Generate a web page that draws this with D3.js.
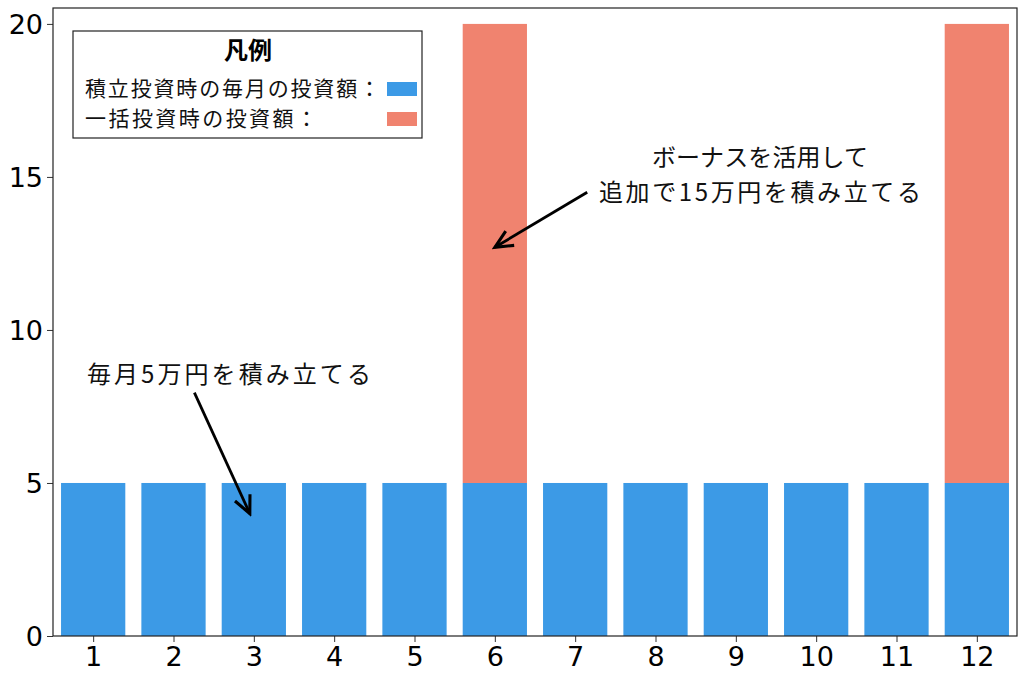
<!DOCTYPE html>
<html><head><meta charset="utf-8">
<script src="https://cdn.jsdelivr.net/npm/d3@7"></script>
<style>body{margin:0;background:#fff}svg{display:block}</style>
</head><body>
<svg id="chart" width="1024" height="678"></svg>
<script>
const months = [1,2,3,4,5,6,7,8,9,10,11,12];
const monthlyValues = [5,5,5,5,5,5,5,5,5,5,5,5];
const bonusValues = [0,0,0,0,0,15,0,0,0,0,0,15];
const yTicks = [0,5,10,15,20];
const legendTitle = "凡例";
const legendLabels = ["積立投資時の毎月の投資額：","一括投資時の投資額："];
const annoMonthly = {text:["毎月5万円を積み立てる"], textAt:[2.69,8.28], from:[2.26,7.95], to:[2.95,4.0]};
const annoBonus = {text:["ボーナスを活用して","追加で15万円を積み立てる"], textAt:[9.3,15.36], from:[7.15,14.5], to:[6.0,12.7]};

const colors = {monthly:"#3C9AE6", bonus:"#F0836F"};
const m = {left:53, right:1017, top:8, bottom:636};
const svg = d3.select("#chart");
const x = d3.scaleLinear().domain([0.5,12.5]).range([m.left,m.right]);
const y = d3.scaleLinear().domain([0,20.52]).range([m.bottom,m.top]);
const bw = (x(1.8)-x(1));
const fontNum = "DejaVu Sans, sans-serif";
const fontJP = "'Noto Sans CJK JP', sans-serif";

// bars
svg.append("g").selectAll("rect").data(months).join("rect")
  .attr("x", (d)=>x(d)-bw/2).attr("width", bw)
  .attr("y", (d,i)=>y(monthlyValues[i])).attr("height", (d,i)=>y(0)-y(monthlyValues[i]))
  .attr("fill", colors.monthly);
svg.append("g").selectAll("rect").data(months.filter((d,i)=>bonusValues[i]>0)).join("rect")
  .attr("x", (d)=>x(d)-bw/2).attr("width", bw)
  .attr("y", (d)=>y(monthlyValues[d-1]+bonusValues[d-1]))
  .attr("height", (d)=>y(monthlyValues[d-1])-y(monthlyValues[d-1]+bonusValues[d-1]))
  .attr("fill", colors.bonus);

// axes
const xAxis = svg.append("g").attr("transform",`translate(0,${m.bottom})`)
  .call(d3.axisBottom(x).tickValues(months).tickSize(6).tickPadding(5).tickSizeOuter(0));
const yAxis = svg.append("g").attr("transform",`translate(${m.left},0)`)
  .call(d3.axisLeft(y).tickValues(yTicks).tickSize(6).tickPadding(4).tickSizeOuter(0));
[xAxis,yAxis].forEach(a=>{
  a.select(".domain").remove();
  a.selectAll("text").attr("font-family",fontNum).attr("font-size",27).attr("fill","#000");
  a.selectAll("line").attr("stroke","#333");
});
yAxis.selectAll("text").attr("dy","0.36em");
// frame
svg.append("rect").attr("x",m.left).attr("y",m.top).attr("width",m.right-m.left).attr("height",m.bottom-m.top)
  .attr("fill","none").attr("stroke","#222").attr("stroke-width",1.2);

// legend
const lg = svg.append("g");
lg.append("rect").attr("x",73).attr("y",31).attr("width",349).attr("height",107)
  .attr("fill","#fff").attr("stroke","#222").attr("stroke-width",1.2);
lg.append("text").attr("x",248).attr("y",59).attr("text-anchor","middle")
  .attr("font-family",fontJP).attr("font-weight","bold").attr("font-size",24).text(legendTitle);
const swCols = [colors.monthly, colors.bonus];
legendLabels.forEach((t,i)=>{
  const ty = 96 + i*30;
  const tx = lg.append("text").attr("x",85).attr("y",ty).attr("font-family",fontJP).attr("font-size",21).attr("fill","#111").text(t);
  tx.attr("textLength", i===0?295:232).attr("lengthAdjust","spacing");
  lg.append("rect").attr("x",387).attr("y",ty-14).attr("width",30).attr("height",14).attr("fill",swCols[i]);
});

// annotations
const defs = svg.append("defs");
defs.append("marker").attr("id","ah").attr("viewBox","0 0 20 20").attr("refX",17).attr("refY",10)
  .attr("markerWidth",22).attr("markerHeight",22).attr("markerUnits","userSpaceOnUse").attr("orient","auto")
  .append("path").attr("d","M1,2.5 L17,10 L1,17.5").attr("fill","none").attr("stroke","#000").attr("stroke-width",2.8);
function annotate(a, lens){
  const lh = 35;
  a.text.forEach((t,i)=>{
    svg.append("text").attr("x",x(a.textAt[0])).attr("y",y(a.textAt[1])+i*lh)
      .attr("text-anchor","middle").attr("font-family",fontJP).attr("font-size",24).attr("fill","#111")
      .attr("textLength",lens[i]).attr("lengthAdjust","spacing").text(t);
  });
  svg.append("line").attr("x1",x(a.from[0])).attr("y1",y(a.from[1])).attr("x2",x(a.to[0])).attr("y2",y(a.to[1]))
    .attr("stroke","#000").attr("stroke-width",2.8).attr("marker-end","url(#ah)");
}
annotate(annoMonthly,[284]);
annotate(annoBonus,[216,322]);
</script>
</body></html>
